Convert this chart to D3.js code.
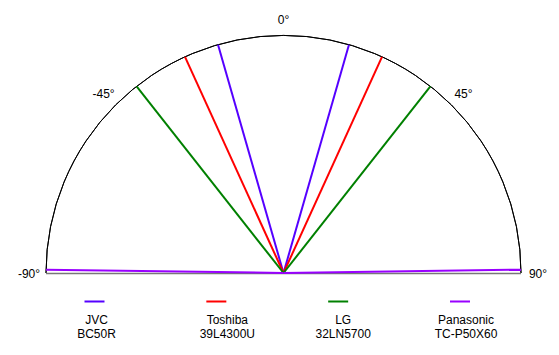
<!DOCTYPE html>
<html><head><meta charset="utf-8">
<script src="https://cdn.jsdelivr.net/npm/d3@7"></script>
<style>body{margin:0;background:#fff}text{font-family:"Liberation Sans",Arial,Helvetica,sans-serif;font-size:12px;fill:#000}</style>
</head><body>
<svg id="chart" width="559" height="355"></svg>
<script>
const brands = ["JVC", "Toshiba", "LG", "Panasonic"];
const models = ["BC50R", "39L4300U", "32LN5700", "TC-P50X60"];
const viewAngles = [16, 24.5, 38.2, 89.2];
const colors = ["#5500ff", "#ff0000", "#008000", "#9900ff"];
const tickAngles = [-90, -45, 0, 45, 90];
const tickLabels = ["-90°", "-45°", "0°", "45°", "90°"];

const svg = d3.select("#chart");
const cx = 283.5, cy = 273, R = 237.5;
const g = svg.append("g").attr("transform", `translate(${cx},${cy})`);
const ang = d3.scaleLinear().domain([-90, 90]).range([-Math.PI/2, Math.PI/2]);
const rad = d3.scaleLinear().domain([0, 1]).range([0, R]);

// semicircle
const arc = d3.arc().innerRadius(0).outerRadius(R).startAngle(ang(-90)).endAngle(ang(90));
g.append("path").attr("d", arc()).attr("fill", "#fff").attr("stroke", "none");
g.append("path").attr("d", d3.arc().innerRadius(R).outerRadius(R).startAngle(ang(-90)).endAngle(ang(90))())
  .attr("fill", "none").attr("stroke", "#000").attr("stroke-width", 1);
g.append("line").attr("x1", -R).attr("x2", R).attr("y1", 0.5).attr("y2", 0.5)
  .attr("stroke", "#777").attr("stroke-width", 1.5);

// tick labels
g.selectAll("text.tick").data(tickAngles).join("text").attr("class", "tick")
  .attr("x", d => Math.sin(ang(d)) * (R + 17))
  .attr("y", d => -Math.cos(ang(d)) * (R + 17) + 1)
  .attr("text-anchor", "middle").attr("dy", "0.35em")
  .text((d, i) => tickLabels[i]);

// viewing angle lines
brands.forEach((b, i) => {
  [-1, 1].forEach(s => {
    const a = ang(s * viewAngles[i]);
    g.append("line").attr("x1", 0).attr("y1", 0)
      .attr("x2", Math.sin(a) * rad(1)).attr("y2", -Math.cos(a) * rad(1))
      .attr("stroke", colors[i]).attr("stroke-width", 2);
  });
});

// legend
const lx = d3.scaleLinear().domain([0, 3]).range([84.5, 450]);
const textOffset = [12, 21, 15, 16];
const leg = svg.append("g");
brands.forEach((b, i) => {
  const x = lx(i);
  leg.append("line").attr("x1", x).attr("x2", x + 20).attr("y1", 301.5).attr("y2", 301.5)
    .attr("stroke", colors[i]).attr("stroke-width", 2);
  leg.append("text").attr("x", x + textOffset[i]).attr("y", 324).attr("text-anchor", "middle").text(b);
  leg.append("text").attr("x", x + textOffset[i]).attr("y", 338).attr("text-anchor", "middle").text(models[i]);
});
</script>
</body></html>
